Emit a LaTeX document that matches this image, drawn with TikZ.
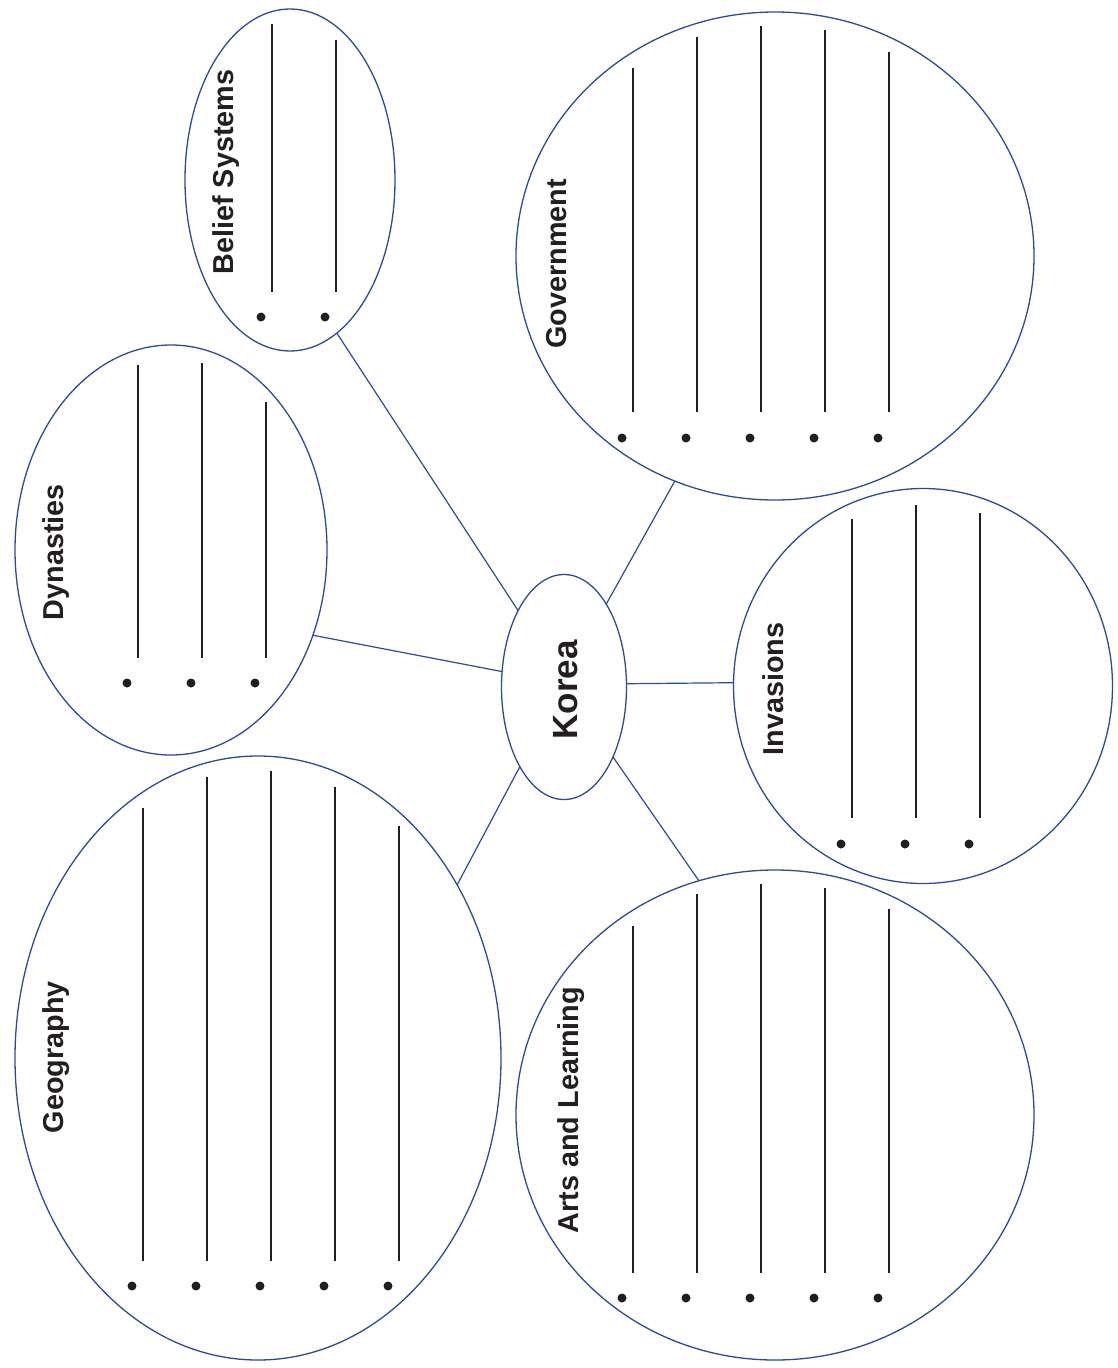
\documentclass[tikz,border=0pt]{standalone}
\usepackage{fontspec}
\setmainfont{Liberation Sans}
\usetikzlibrary{shapes.geometric}
\definecolor{webblue}{RGB}{40,75,160}
\definecolor{ink}{RGB}{35,31,32}
\begin{document}
\begin{tikzpicture}[x=1pt,y=-1pt,
  bubble/.style={ellipse,draw=webblue,line width=1.3pt,inner sep=0pt,outer sep=0pt},
  link/.style={draw=webblue,line width=1.2pt},
  title/.style={rotate=90,anchor=base,font=\bfseries\fontsize{28.8}{30}\selectfont,text=ink,inner sep=0pt},
  rulex/.style={draw=ink,line width=1.2pt},
  bul/.style={fill=ink}]
\useasboundingbox (0,0) rectangle (1117,1368);
% bubbles
\node[bubble,minimum width=210pt,minimum height=342pt] (bel) at (290,180) {};
\node[bubble,minimum width=518pt,minimum height=488pt] (gov) at (775,256) {};
\node[bubble,minimum width=312pt,minimum height=410pt] (dyn) at (171,550) {};
\node[bubble,minimum width=125pt,minimum height=225pt] (kor) at (564,687) {};
\node[bubble,minimum width=379pt,minimum height=395pt] (inv) at (923,686) {};
\node[bubble,minimum width=486pt,minimum height=604pt] (geo) at (258,1058) {};
\node[bubble,minimum width=518pt,minimum height=490pt] (art) at (775,1115) {};
% connectors
\draw[link] (bel.-73.8) -- (kor.121.5);
\draw[link] (gov.-114.8) -- (kor.63.2);
\draw[link] (dyn.-31.8) -- (kor.166.4);
\draw[link] (kor.3) -- (inv.179);
\draw[link] (geo.41.3) -- (kor.-119.1);
\draw[link] (art.108.7) -- (kor.-55);
% titles
\node[title] (tbel) at (233,172) {Belief Systems};
\node[title] (tgov) at (566,264) {Government};
\node[title] (tdyn) at (63,552) {Dynasties};
\node[title] (tinv) at (783,689) {Invasions};
\node[title] (tgeo) at (63,1057) {Geography};
\node[title] (tart) at (578,1110) {Arts and Learning};
\node[title,font=\bfseries\fontsize{35}{36}\selectfont] (tkor) at (577,690) {Korea};
% writing lines with bullets
\foreach \x/\t in {272/24,336/40}{
  \draw[rulex] (\x,\t) -- (\x,292);
  \fill[bul] (\x-11,317) circle (4.5pt);}
\foreach \x/\t in {633/68,697/37,761/26,825/30,889/52}{
  \draw[rulex] (\x,\t) -- (\x,412);
  \fill[bul] (\x-11,438) circle (4.5pt);}
\foreach \x/\t in {138/365,202/363,266/402}{
  \draw[rulex] (\x,\t) -- (\x,658);
  \fill[bul] (\x-11,683) circle (4.5pt);}
\foreach \x/\t in {852/519,916/505,980/513}{
  \draw[rulex] (\x,\t) -- (\x,818);
  \fill[bul] (\x-11,844) circle (4.5pt);}
\foreach \x/\t in {143/808,207/777,271/771,335/787,399/826}{
  \draw[rulex] (\x,\t) -- (\x,1261);
  \fill[bul] (\x-11,1286) circle (4.5pt);}
\foreach \x/\t in {633/926,697/894,761/884,825/888,889/909}{
  \draw[rulex] (\x,\t) -- (\x,1273);
  \fill[bul] (\x-11,1298) circle (4.5pt);}
\end{tikzpicture}
\end{document}
